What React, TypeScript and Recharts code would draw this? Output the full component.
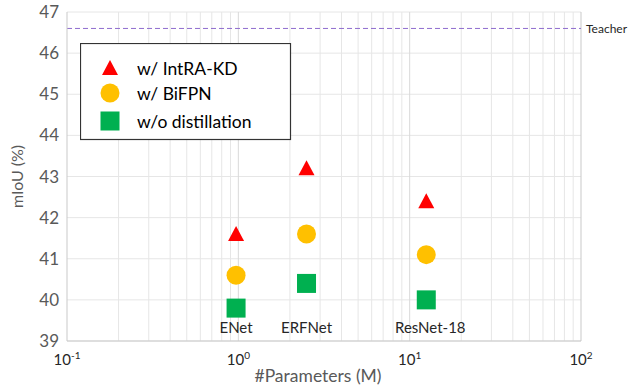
import {
  CartesianGrid,
  ReferenceLine,
  Scatter,
  ScatterChart,
  XAxis,
  YAxis,
} from "recharts";

// ネットワーク名とパラメータ数 (M)
const models = ["ENet", "ERFNet", "ResNet-18"];
const params = [0.97, 2.5, 12.5];

// mIoU (%)
const intraKd = [41.6, 43.2, 42.4];
const biFpn = [40.6, 41.6, 41.1];
const noDistill = [39.8, 40.4, 40.0];

const teacher = 46.6;

const xTicks = [0.1, 1, 10, 100];
const xTickLabels = ["-1", "0", "1", "2"];
const minorX = [
  0.2, 0.3, 0.4, 0.5, 0.6, 0.7, 0.8, 0.9, 2, 3, 4, 5, 6, 7, 8, 9, 20, 30, 40,
  50, 60, 70, 80, 90,
];
const yTicks = [39, 40, 41, 42, 43, 44, 45, 46, 47];
const labelY = 39.34;

const FONT = "Lato, 'Open Sans', sans-serif";
const GRID = "#e6e6e6";
const AXIS = "#c9c9c9";

const toPoints = (ys: number[]) =>
  params.map((x, i) => ({ x, y: ys[i], name: models[i] }));

const Triangle = ({ cx, cy }: any) => (
  <polygon
    points={`${cx},${cy - 8} ${cx + 8},${cy + 7} ${cx - 8},${cy + 7}`}
    fill="#ff0000"
  />
);
const Circle = ({ cx, cy }: any) => <circle cx={cx} cy={cy} r={9.5} fill="#ffc000" />;
const Square = ({ cx, cy }: any) => (
  <rect x={cx - 9.5} y={cy - 9.5} width={19} height={19} fill="#00b050" />
);
const NameLabel = ({ cx, cy, payload }: any) => (
  <text
    x={cx + (payload.name === "ResNet-18" ? 4 : 0)}
    y={cy}
    textAnchor="middle"
    dominantBaseline="central"
    fontSize={15}
    fontFamily={FONT}
    fill="#262626"
  >
    {payload.name}
  </text>
);

const XTick = ({ x, y, payload }: any) => {
  const i = xTicks.indexOf(payload.value);
  return (
    <text x={x} y={y + 16} textAnchor="middle" fontSize={15} fontFamily={FONT} fill="#262626">
      10
      <tspan dy={-6} fontSize={10}>
        {xTickLabels[i]}
      </tspan>
    </text>
  );
};

// 凡例 (グラフの上に重ねる)
const LegendBox = () => {
  const items = [
    { label: "w/ IntRA-KD", shape: <polygon points="30,-8 38,7 22,7" fill="#ff0000" /> },
    { label: "w/ BiFPN", shape: <circle cx={30} cy={0} r={9.5} fill="#ffc000" /> },
    { label: "w/o distillation", shape: <rect x={20.5} y={-9.5} width={19} height={19} fill="#00b050" /> },
  ];
  const ys = [25, 50, 78];
  return (
    <svg
      width={212}
      height={98}
      style={{ position: "absolute", left: 80, top: 43, display: "block" }}
    >
      <rect x={0.5} y={0.5} width={210} height={96} fill="#fff" stroke="#333" strokeWidth={1.2} />
      {items.map((it, i) => (
        <g key={it.label} transform={`translate(0, ${ys[i]})`}>
          {it.shape}
          <text x={57} y={0} dominantBaseline="central" fontSize={17.5} fontFamily={FONT} fill="#000">
            {it.label}
          </text>
        </g>
      ))}
    </svg>
  );
};

export default function App() {
  return (
    <div style={{ position: "absolute", left: 0, top: 0, width: 640, height: 385, background: "#fff" }}>
      <ScatterChart width={640} height={385} margin={{ top: 12, right: 59, bottom: 0, left: 0 }}>
        <CartesianGrid vertical={false} stroke={GRID} />
        <XAxis
          dataKey="x"
          type="number"
          scale="log"
          domain={[0.1, 100]}
          ticks={xTicks}
          tick={<XTick />}
          height={44}
          stroke={AXIS}
          tickLine={false}
          allowDataOverflow
        />
        <YAxis
          dataKey="y"
          type="number"
          domain={[39, 47]}
          ticks={yTicks}
          width={67}
          stroke={AXIS}
          tickLine={false}
          tick={{ fontSize: 17, fill: "#595959", fontFamily: FONT }}
          label={{
            value: "mIoU (%)",
            angle: -90,
            position: "insideLeft",
            dx: 12,
            style: { fontSize: 16, fill: "#595959", fontFamily: FONT, textAnchor: "middle" },
          }}
        />
        {minorX.map((v) => (
          <ReferenceLine key={`m${v}`} x={v} stroke={GRID} />
        ))}
        {[1, 10, 100].map((v) => (
          <ReferenceLine key={`M${v}`} x={v} stroke={v === 100 ? AXIS : "#d9d9d9"} />
        ))}
        <ReferenceLine
          y={teacher}
          stroke="#8f6ccf"
          strokeDasharray="5 3"
          label={{ value: "Teacher", position: "right", fontSize: 12, fill: "#262626", fontFamily: FONT }}
        />
        <Scatter data={toPoints(noDistill)} shape={<Square />} isAnimationActive={false} />
        <Scatter data={toPoints(biFpn)} shape={<Circle />} isAnimationActive={false} />
        <Scatter data={toPoints(intraKd)} shape={<Triangle />} isAnimationActive={false} />
        <Scatter
          data={params.map((x, i) => ({ x, y: labelY, name: models[i] }))}
          shape={<NameLabel />}
          isAnimationActive={false}
        />
        <text x={318} y={382} textAnchor="middle" fontSize={17.5} fill="#595959" fontFamily={FONT}>
          #Parameters (M)
        </text>
      </ScatterChart>
      <LegendBox />
    </div>
  );
}
